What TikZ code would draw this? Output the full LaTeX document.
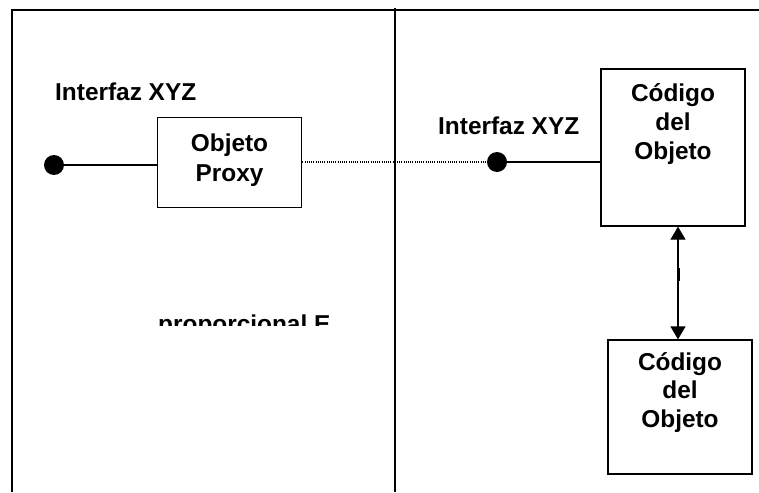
\documentclass[tikz,border=0pt]{standalone}
\usepackage{fontspec}
\setmainfont{Liberation Sans}
\usetikzlibrary{arrows.meta}
\begin{document}
\begin{tikzpicture}[x=1pt,y=-1pt,
  box/.style={draw,line width=1.3pt,inner sep=0pt},
  lbl/.style={font=\bfseries\fontsize{24.4}{29}\selectfont,inner sep=0pt},
  dot/.style={circle,fill=black,minimum size=20pt,inner sep=0pt},
  frame/.style={line width=1.6pt},
  conn/.style={line width=1.3pt},
  biarrow/.style={line width=1.3pt,>={Triangle[width=15pt,length=13pt]},<->}]
\useasboundingbox (0,0) rectangle (759,492);
% frame
\draw[frame] (12,492) -- (12,10) -- (759,10);
\draw[frame] (395,8) -- (395,492);
% boxes
\node[box,minimum width=144.5pt,minimum height=90pt] (proxy) at (229.5,162.7) {};
\node[box,minimum width=144pt,minimum height=157pt] (code1) at (673,147.5) {};
\node[box,minimum width=144pt,minimum height=134pt] (code2) at (680,407) {};
% dots
\node[dot] (ldot) at (54,165) {};
\node[dot] (rdot) at (497,162) {};
% texts
\node[lbl,anchor=base west] (if1) at (55,101) {Interfaz XYZ};
\node[lbl,anchor=base west] (if2) at (438,134.5) {Interfaz XYZ};
\node[lbl,anchor=base] (tproxy) at (229.5,151.7)
  {\renewcommand\arraystretch{1.034}\begin{tabular}[t]{@{}c@{}}Objeto\\Proxy\end{tabular}};
\node[lbl,anchor=base] (tcode1) at (673,101.7)
  {\begin{tabular}[t]{@{}c@{}}Código\\del\\Objeto\end{tabular}};
\node[lbl,anchor=base] (tcode2) at (680,370)
  {\renewcommand\arraystretch{0.983}\begin{tabular}[t]{@{}c@{}}Código\\del\\Objeto\end{tabular}};
\begin{scope}
  \clip (150,300) rectangle (345,325);
  \node[lbl,anchor=base west] (prop) at (158,332.5) {proporcional E};
\end{scope}
% connectors
\draw[conn] (ldot) -- (ldot -| proxy.west);
\draw[line width=1.2pt,dash pattern=on 1pt off 1.2pt] (proxy.east |- rdot) -- (rdot);
\draw[conn] (rdot) -- (rdot -| code1.west);
\coordinate (ax) at (678,0);
\draw[biarrow] (ax |- code1.south) -- (ax |- code2.north);
\coordinate (m1) at (679.5,268);
\coordinate (m2) at (679.5,281);
\draw[line width=1.4pt] (m1) -- (m2);
\end{tikzpicture}
\end{document}
